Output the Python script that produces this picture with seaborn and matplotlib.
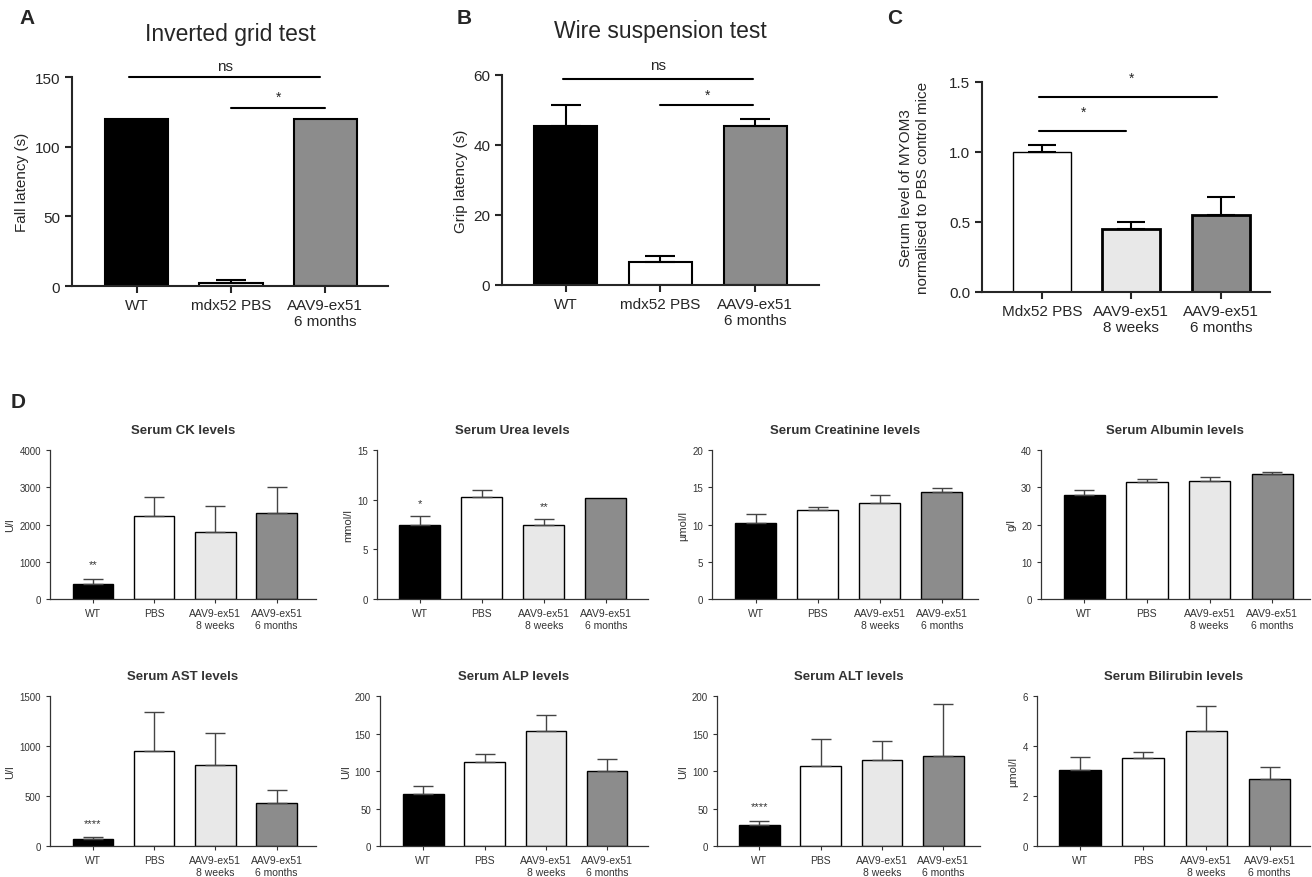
import numpy as np
import pandas as pd
import matplotlib
matplotlib.use("Agg")
import matplotlib.pyplot as plt
import seaborn as sns

sns.set_style("ticks")
plt.rcParams["font.family"] = ["Liberation Sans", "DejaVu Sans"]

# ---- data (mean, top of SEM bar; nan = no bar) ----
grid_groups = ["WT", "mdx52 PBS", "AAV9-ex51\n6 months"]
grid_mean = [120, 2, 120]
grid_top = [np.nan, 4.5, np.nan]

wire_groups = ["WT", "mdx52 PBS", "AAV9-ex51\n6 months"]
wire_mean = [45.5, 6.5, 45.5]
wire_top = [51.5, 8.3, 47.5]

myom_groups = ["Mdx52 PBS", "AAV9-ex51\n8 weeks", "AAV9-ex51\n6 months"]
myom_mean = [1.0, 0.45, 0.55]
myom_top = [1.05, 0.50, 0.68]

serum_groups = ["WT", "PBS", "AAV9-ex51\n8 weeks", "AAV9-ex51\n6 months"]
ck_mean = [400, 2230, 1800, 2300]
ck_top = [550, 2750, 2500, 3000]
urea_mean = [7.5, 10.25, 7.5, 10.15]
urea_top = [8.4, 11.0, 8.1, np.nan]
creat_mean = [10.2, 11.95, 12.9, 14.35]
creat_top = [11.4, 12.4, 13.9, 14.85]
alb_mean = [27.8, 31.3, 31.7, 33.5]
alb_top = [29.3, 32.1, 32.8, 34.2]
ast_mean = [75, 955, 810, 435]
ast_top = [90, 1340, 1130, 560]
alp_mean = [70, 112, 153, 100]
alp_top = [80, 123, 175, 116]
alt_mean = [28, 107, 115, 120]
alt_top = [33, 143, 140, 189]
bili_mean = [3.05, 3.52, 4.62, 2.7]
bili_top = [3.58, 3.75, 5.6, 3.18]

colors_ab = ["black", "white", "#8c8c8c"]
colors_c = ["white", "#e8e8e8", "#8c8c8c"]
colors_d = ["black", "white", "#e8e8e8", "#8c8c8c"]


def draw_bars(ax, groups, means, tops, colors, width, edge_lw, err_color, err_lw, capsize):
    df = pd.DataFrame({"group": groups, "value": means})
    sns.barplot(data=df, x="group", y="value", hue="group", order=groups, hue_order=groups,
                palette=colors, width=width, edgecolor="black", linewidth=edge_lw,
                errorbar=None, legend=False, ax=ax)
    x = np.arange(len(groups))
    m = np.array(means, float)
    t = np.array(tops, float)
    ok = ~np.isnan(t)
    ax.errorbar(x[ok], m[ok], yerr=[np.zeros(ok.sum()), (t - m)[ok]], fmt="none",
                ecolor=err_color, elinewidth=err_lw, capsize=capsize, capthick=err_lw)
    sns.despine(ax=ax)
    ax.set_xlabel("")


fig = plt.figure(figsize=(13.12, 8.78), dpi=100)

# ---------------- A ----------------
axA = fig.add_axes([0.0549, 0.6731, 0.2409, 0.238])
draw_bars(axA, grid_groups, grid_mean, grid_top, colors_ab, 0.67, 1.5, "black", 1.5, 11)
axA.set_xlim(-0.69, 2.67)
axA.set_ylim(0, 150)
axA.set_yticks([0, 50, 100, 150])
axA.set_ylabel("Fall latency (s)", fontsize=11)
axA.set_title("Inverted grid test", fontsize=16.5, pad=27)
axA.plot([-0.08, 1.95], [150, 150], color="black", lw=1.5, clip_on=False)
axA.text(0.94, 158, "ns", ha="center", va="center", fontsize=11)
axA.plot([1.0, 2.0], [128, 128], color="black", lw=1.5, clip_on=False)
axA.text(1.5, 136, "*", ha="center", va="center", fontsize=10)

# ---------------- B ----------------
axB = fig.add_axes([0.3826, 0.6743, 0.2416, 0.2392])
draw_bars(axB, wire_groups, wire_mean, wire_top, colors_ab, 0.66, 1.5, "black", 1.5, 11)
axB.set_xlim(-0.67, 2.67)
axB.set_ylim(0, 60)
axB.set_yticks([0, 20, 40, 60])
axB.set_ylabel("Grip latency (s)", fontsize=11)
axB.set_title("Wire suspension test", fontsize=16.5, pad=27)
axB.plot([-0.03, 1.98], [58.9, 58.9], color="black", lw=1.5, clip_on=False)
axB.text(0.97, 62.8, "ns", ha="center", va="center", fontsize=11)
axB.plot([1.0, 1.98], [51.4, 51.4], color="black", lw=1.5, clip_on=False)
axB.text(1.5, 54.3, "*", ha="center", va="center", fontsize=10)

# ---------------- C ----------------
axC = fig.add_axes([0.7485, 0.6663, 0.2195, 0.2392])
draw_bars(axC, myom_groups, myom_mean, myom_top, colors_c, 0.65, 1.0, "black", 1.5, 10)
for patch, lw in zip(axC.patches, [1.0, 2.0, 2.0]):
    patch.set_linewidth(lw)
axC.set_xlim(-0.67, 2.55)
axC.set_ylim(0, 1.5)
axC.set_yticks([0.0, 0.5, 1.0, 1.5])
axC.set_yticklabels(["0.0", "0.5", "1.0", "1.5"])
axC.set_ylabel("Serum level of MYOM3\nnormalised to PBS control mice", fontsize=11, labelpad=14)
axC.plot([-0.03, 1.96], [1.395, 1.395], color="black", lw=1.5, clip_on=False)
axC.text(1.0, 1.53, "*", ha="center", va="center", fontsize=10)
axC.plot([-0.03, 0.94], [1.15, 1.15], color="black", lw=1.5, clip_on=False)
axC.text(0.46, 1.29, "*", ha="center", va="center", fontsize=10)

for ax in (axA, axB, axC):
    ax.tick_params(labelsize=11, width=1.5, length=5)
    for s in ("left", "bottom"):
        ax.spines[s].set_linewidth(1.5)

# ---------------- D ----------------
d_panels = [
    ("Serum CK levels", "U/l", ck_mean, ck_top, 4000, 1000, [0.0381, 0.3166, 0.2027, 0.1697], (-0.70, 3.64)),
    ("Serum Urea levels", "mmol/l", urea_mean, urea_top, 15, 5, [0.2873, 0.3166, 0.2066, 0.1697], (-0.69, 3.68)),
    ("Serum Creatinine levels", "\u00b5mol/l", creat_mean, creat_top, 20, 5, [0.5427, 0.3166, 0.2027, 0.1697], (-0.70, 3.58)),
    ("Serum Albumin levels", "g/l", alb_mean, alb_top, 40, 10, [0.7934, 0.3166, 0.2050, 0.1697], (-0.69, 3.60)),
    ("Serum AST levels", "U/l", ast_mean, ast_top, 1500, 500, [0.0381, 0.0353, 0.2027, 0.1708], (-0.70, 3.64)),
    ("Serum ALP levels", "U/l", alp_mean, alp_top, 200, 50, [0.2896, 0.0353, 0.2043, 0.1708], (-0.71, 3.67)),
    ("Serum ALT levels", "U/l", alt_mean, alt_top, 200, 50, [0.5465, 0.0353, 0.2005, 0.1708], (-0.69, 3.60)),
    ("Serum Bilirubin levels", "\u00b5mol/l", bili_mean, bili_top, 6, 2, [0.7904, 0.0353, 0.2081, 0.1708], (-0.68, 3.64)),
]

d_axes = []
for title, unit, means, tops, ymax, step, rect, xl in d_panels:
    ax = fig.add_axes(rect)
    draw_bars(ax, serum_groups, means, tops, colors_d, 0.66, 1.0, "#444444", 1.0, 7)
    ax.set_xlim(*xl)
    ax.set_ylim(0, ymax)
    ax.set_yticks(np.arange(0, ymax + step / 2, step))
    ax.set_ylabel(unit, fontsize=8, color="#333333", labelpad=3)
    ax.set_title(title, fontsize=9.5, fontweight="bold", color="#333333", pad=12)
    ax.tick_params(axis="y", labelsize=7, width=0.8, length=3, colors="#333333")
    ax.tick_params(axis="x", labelsize=7.5, width=0.8, length=3, colors="#333333")
    for s in ("left", "bottom"):
        ax.spines[s].set_linewidth(0.9)
        ax.spines[s].set_color("#333333")
    d_axes.append(ax)

# significance marks in D
d_axes[0].text(0, 940, "**", ha="center", va="center", fontsize=8, color="#333333")
d_axes[1].text(0, 9.7, "*", ha="center", va="center", fontsize=8, color="#333333")
d_axes[1].text(2, 9.4, "**", ha="center", va="center", fontsize=8, color="#333333")
d_axes[4].text(0, 230, "****", ha="center", va="center", fontsize=8, color="#333333")
d_axes[6].text(0, 53, "****", ha="center", va="center", fontsize=8, color="#333333")

# panel letters
fig.text(0.015, 0.990, "A", fontsize=15, fontweight="bold", va="top")
fig.text(0.348, 0.990, "B", fontsize=15, fontweight="bold", va="top")
fig.text(0.676, 0.990, "C", fontsize=15, fontweight="bold", va="top")
fig.text(0.008, 0.552, "D", fontsize=15, fontweight="bold", va="top")

fig.savefig("out.png", dpi=100)
